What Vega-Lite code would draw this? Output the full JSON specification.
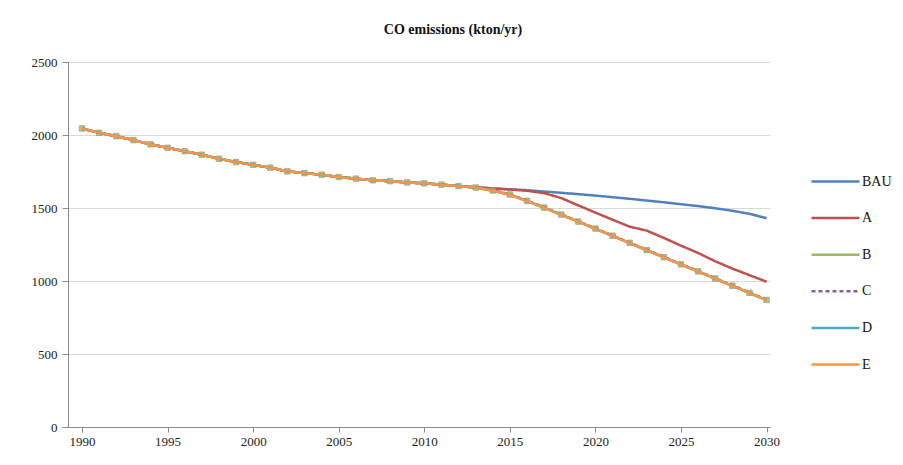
{
  "$schema": "https://vega.github.io/schema/vega-lite/v6.json",
  "autosize": {"type": "none"},
  "width": 702,
  "height": 365,
  "padding": {"left": 68, "top": 62, "right": 133, "bottom": 38},
  "background": "white",
  "config": {
    "view": {"stroke": null},
    "font": "Liberation Serif",
    "axis": {"labelFont": "Liberation Serif", "labelFontSize": 13, "labelColor": "#222", "domainColor": "#8c8c8c", "tickColor": "#8c8c8c", "gridColor": "#d9d9d9", "title": null}
  },
  "title": {"text": "CO emissions (kton/yr)", "font": "Liberation Serif", "fontSize": 14, "fontWeight": "bold", "anchor": "middle", "dx": 34, "offset": 19, "color": "#111"},
  "data": {"values": [
    {"year": 1990, "BAU": 2045, "A": 2045, "B": 2045, "C": 2045, "D": 2045, "E": 2045},
    {"year": 1991, "BAU": 2015, "A": 2015, "B": 2015, "C": 2015, "D": 2015, "E": 2015},
    {"year": 1992, "BAU": 1992, "A": 1992, "B": 1992, "C": 1992, "D": 1992, "E": 1992},
    {"year": 1993, "BAU": 1965, "A": 1965, "B": 1965, "C": 1965, "D": 1965, "E": 1965},
    {"year": 1994, "BAU": 1936, "A": 1936, "B": 1936, "C": 1936, "D": 1936, "E": 1936},
    {"year": 1995, "BAU": 1912, "A": 1912, "B": 1912, "C": 1912, "D": 1912, "E": 1912},
    {"year": 1996, "BAU": 1889, "A": 1889, "B": 1889, "C": 1889, "D": 1889, "E": 1889},
    {"year": 1997, "BAU": 1865, "A": 1865, "B": 1865, "C": 1865, "D": 1865, "E": 1865},
    {"year": 1998, "BAU": 1837, "A": 1837, "B": 1837, "C": 1837, "D": 1837, "E": 1837},
    {"year": 1999, "BAU": 1815, "A": 1815, "B": 1815, "C": 1815, "D": 1815, "E": 1815},
    {"year": 2000, "BAU": 1796, "A": 1796, "B": 1796, "C": 1796, "D": 1796, "E": 1796},
    {"year": 2001, "BAU": 1776, "A": 1776, "B": 1776, "C": 1776, "D": 1776, "E": 1776},
    {"year": 2002, "BAU": 1751, "A": 1751, "B": 1751, "C": 1751, "D": 1751, "E": 1751},
    {"year": 2003, "BAU": 1739, "A": 1739, "B": 1739, "C": 1739, "D": 1739, "E": 1739},
    {"year": 2004, "BAU": 1728, "A": 1728, "B": 1728, "C": 1728, "D": 1728, "E": 1728},
    {"year": 2005, "BAU": 1712, "A": 1712, "B": 1712, "C": 1712, "D": 1712, "E": 1712},
    {"year": 2006, "BAU": 1701, "A": 1701, "B": 1701, "C": 1701, "D": 1701, "E": 1701},
    {"year": 2007, "BAU": 1690, "A": 1690, "B": 1690, "C": 1690, "D": 1690, "E": 1690},
    {"year": 2008, "BAU": 1684, "A": 1684, "B": 1684, "C": 1684, "D": 1684, "E": 1684},
    {"year": 2009, "BAU": 1675, "A": 1675, "B": 1675, "C": 1675, "D": 1675, "E": 1675},
    {"year": 2010, "BAU": 1669, "A": 1669, "B": 1669, "C": 1669, "D": 1669, "E": 1669},
    {"year": 2011, "BAU": 1660, "A": 1660, "B": 1660, "C": 1660, "D": 1660, "E": 1660},
    {"year": 2012, "BAU": 1650, "A": 1650, "B": 1650, "C": 1650, "D": 1650, "E": 1650},
    {"year": 2013, "BAU": 1642, "A": 1642, "B": 1640, "C": 1641, "D": 1639, "E": 1640},
    {"year": 2014, "BAU": 1634, "A": 1634, "B": 1620, "C": 1622, "D": 1618, "E": 1619},
    {"year": 2015, "BAU": 1628, "A": 1627, "B": 1592, "C": 1594, "D": 1590, "E": 1591},
    {"year": 2016, "BAU": 1622, "A": 1618, "B": 1549, "C": 1551, "D": 1547, "E": 1548},
    {"year": 2017, "BAU": 1613, "A": 1602, "B": 1503, "C": 1505, "D": 1501, "E": 1502},
    {"year": 2018, "BAU": 1604, "A": 1568, "B": 1455, "C": 1457, "D": 1453, "E": 1454},
    {"year": 2019, "BAU": 1595, "A": 1518, "B": 1407, "C": 1409, "D": 1405, "E": 1406},
    {"year": 2020, "BAU": 1585, "A": 1468, "B": 1359, "C": 1361, "D": 1357, "E": 1358},
    {"year": 2021, "BAU": 1574, "A": 1420, "B": 1310, "C": 1312, "D": 1308, "E": 1309},
    {"year": 2022, "BAU": 1563, "A": 1372, "B": 1261, "C": 1263, "D": 1259, "E": 1260},
    {"year": 2023, "BAU": 1551, "A": 1345, "B": 1212, "C": 1214, "D": 1210, "E": 1211},
    {"year": 2024, "BAU": 1539, "A": 1295, "B": 1163, "C": 1165, "D": 1161, "E": 1162},
    {"year": 2025, "BAU": 1526, "A": 1242, "B": 1114, "C": 1116, "D": 1112, "E": 1113},
    {"year": 2026, "BAU": 1513, "A": 1192, "B": 1066, "C": 1068, "D": 1064, "E": 1065},
    {"year": 2027, "BAU": 1498, "A": 1135, "B": 1017, "C": 1019, "D": 1015, "E": 1016},
    {"year": 2028, "BAU": 1481, "A": 1085, "B": 968, "C": 970, "D": 966, "E": 967},
    {"year": 2029, "BAU": 1460, "A": 1040, "B": 919, "C": 921, "D": 917, "E": 918},
    {"year": 2030, "BAU": 1430, "A": 995, "B": 870, "C": 872, "D": 868, "E": 869}
  ]},
  "transform": [{"fold": ["BAU", "A", "B", "C", "D", "E"], "as": ["series", "value"]}],
  "encoding": {
    "x": {"field": "year", "type": "quantitative", "scale": {"domain": [1989.18, 2030.2], "nice": false, "zero": false},
      "axis": {"values": [1990, 1995, 2000, 2005, 2010, 2015, 2020, 2025, 2030], "format": "d", "grid": false, "tickSize": 5, "labelPadding": 3}},
    "y": {"field": "value", "type": "quantitative", "scale": {"domain": [0, 2500], "nice": false},
      "axis": {"values": [0, 500, 1000, 1500, 2000, 2500], "format": "d", "grid": true, "tickSize": 6, "labelPadding": 5, "domain": true}}
  },
  "layer": [
    {
      "transform": [{"filter": {"field": "series", "oneOf": ["BAU", "A", "B"]}}],
      "mark": {"type": "line", "strokeWidth": 2.5},
      "encoding": {
        "color": {"field": "series", "type": "nominal", "title": null,
          "scale": {"domain": ["BAU", "A", "B", "C", "D", "E"], "range": ["#4F81BD", "#C0504D", "#9BBB59", "#8064A2", "#4BACC6", "#F79646"]},
          "legend": {"orient": "none", "legendX": 742, "legendY": 94, "symbolType": "stroke", "symbolSize": 2304, "symbolStrokeWidth": 2.5, "labelFont": "Liberation Serif", "labelFontSize": 14, "labelColor": "#111", "labelOffset": 1, "rowPadding": 3.6, "padding": 0}},
        "strokeDash": {"field": "series", "type": "nominal", "title": null,
          "scale": {"domain": ["BAU", "A", "B", "C", "D", "E"], "range": [[1, 0], [1, 0], [1, 0], [4, 3], [1, 0], [1, 0]]}}
      }
    },
    {
      "transform": [{"filter": {"field": "series", "equal": "B"}}],
      "mark": {"type": "point", "shape": "square", "filled": true, "size": 30, "opacity": 0.85, "color": "#a9b27a", "stroke": "#8a9a6a", "strokeWidth": 0.8},
      "encoding": {}
    },
    {
      "transform": [{"filter": {"field": "series", "oneOf": ["C", "D", "E"]}}],
      "mark": {"type": "line", "strokeWidth": 2.5},
      "encoding": {
        "color": {"field": "series", "type": "nominal", "title": null},
        "strokeDash": {"field": "series", "type": "nominal", "title": null}
      }
    }
  ]
}
